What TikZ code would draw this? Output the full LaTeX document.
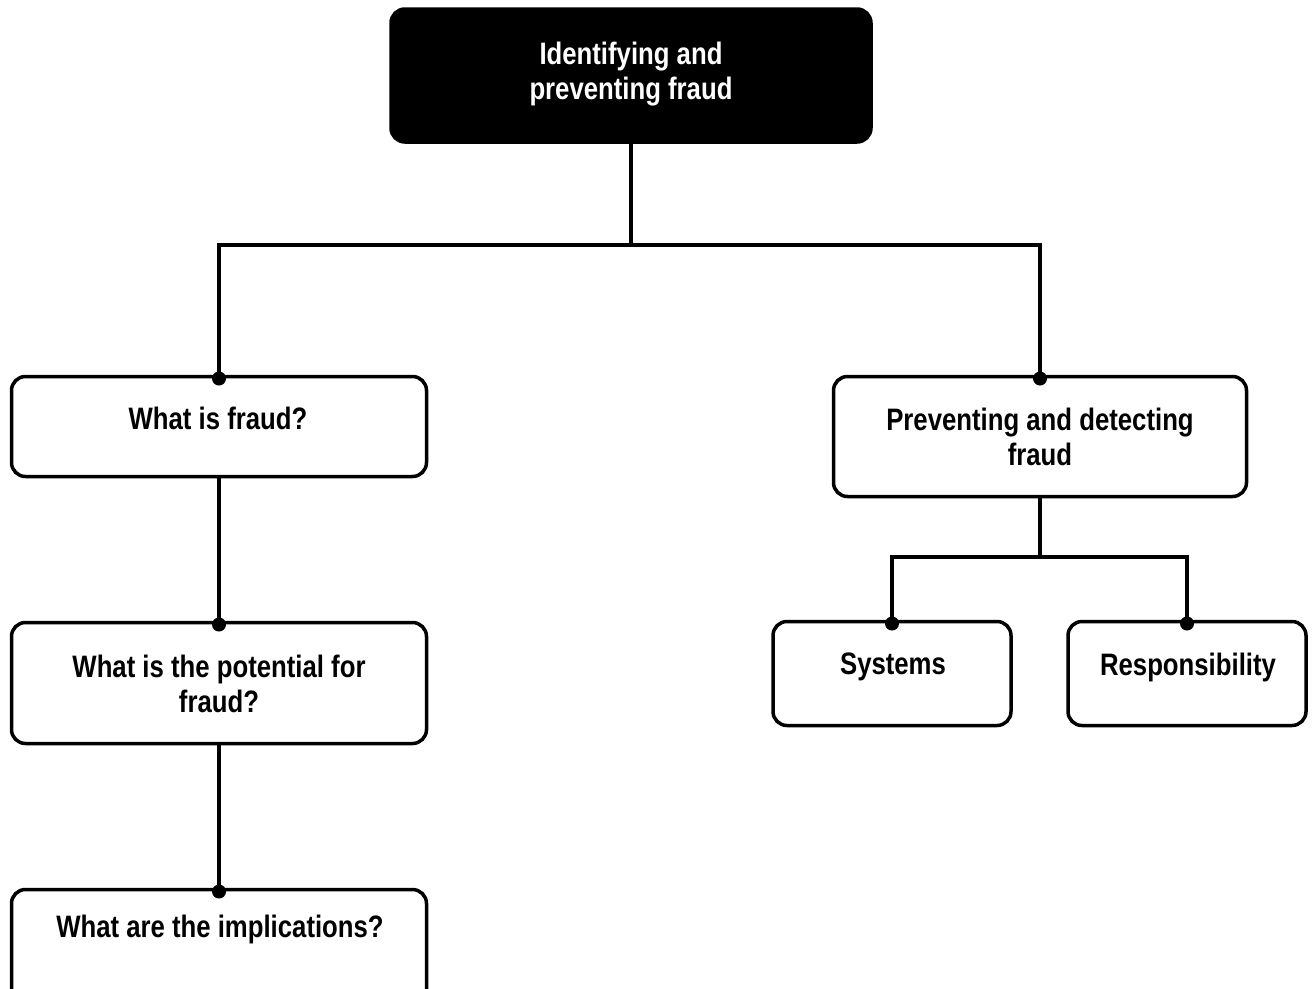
\documentclass[tikz,border=0pt]{standalone}
\usepackage{fontspec}
\setmainfont{Liberation Sans}[FakeStretch=0.83]
\begin{document}
\begin{tikzpicture}[x=1pt,y=-1pt,
  box/.style={rectangle, draw=black, fill=white, line width=3.5pt,
    rounded corners=14pt, inner sep=0pt, outer sep=0pt},
  headbox/.style={box, fill=black},
  lbl/.style={font=\bfseries\fontsize{31}{35}\selectfont, align=center,
    inner sep=0pt, text=black},
  headlbl/.style={lbl, text=white},
  wire/.style={line width=3.5pt, draw=black},
  dotmark/.style={fill=black}]
\clip (0,0) rectangle (1314,988);

% boxes
\node[headbox, minimum width=480pt, minimum height=133pt] (top) at (631,75.5) {};
\node[box, minimum width=415pt, minimum height=100pt] (fraud) at (219,426.5) {};
\node[box, minimum width=415pt, minimum height=121pt] (potential) at (219,683) {};
\node[box, minimum width=415pt, minimum height=121pt] (impl) at (219,950) {};
\node[box, minimum width=413pt, minimum height=120pt] (prev) at (1040,436.5) {};
\node[box, minimum width=238pt, minimum height=104pt] (sys) at (892,673.5) {};
\node[box, minimum width=238pt, minimum height=104pt] (resp) at (1187,673.5) {};

% labels
\node[headlbl] (toptxt) at (631,74.5) {Identifying and\\preventing fraud};
\node[lbl] (fraudtxt) at (218,418) {What is fraud?};
\node[lbl] (pottxt) at (219,684) {What is the potential for\\fraud?};
\node[lbl] (impltxt) at (220,929) {What are the implications?};
\node[lbl] (prevtxt) at (1040,437) {Preventing and detecting\\fraud};
\node[lbl] (systxt) at (893,667) {Systems};
\node[lbl] (resptxt) at (1188,667) {Responsibility};

% connectors
\coordinate (hub) at (top.south |- 0,245);
\draw[wire] (top.south) -- (hub);
\draw[wire] (hub) -| (fraud.north);
\draw[wire] (hub) -| (prev.north);
\draw[wire] (fraud.south) -- (potential.north);
\draw[wire] (potential.south) -- (impl.north);
\coordinate (hubr) at (prev.south |- 0,557);
\draw[wire] (prev.south) -- (hubr);
\draw[wire] (hubr) -| (sys.north);
\draw[wire] (hubr) -| (resp.north);

% junction dots
\foreach \n in {fraud,prev,potential,impl,sys,resp}
  \fill[dotmark] ([yshift=-2pt]\n.north) circle[radius=7pt];
\end{tikzpicture}
\end{document}
